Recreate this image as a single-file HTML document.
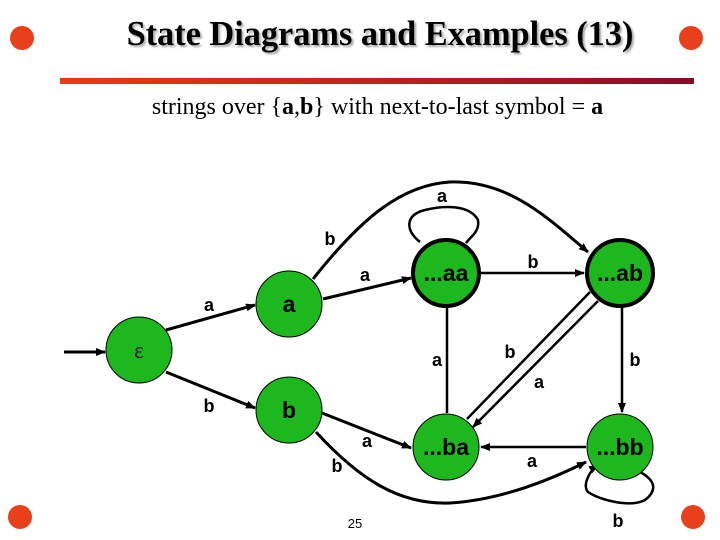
<!DOCTYPE html>
<html><head><meta charset="utf-8"><style>
body{margin:0;width:720px;height:540px;background:#fff;overflow:hidden;position:relative;font-family:"Liberation Serif",serif}
.t{position:absolute;left:0;width:760px;text-align:center;top:14px;font-size:35px;font-weight:bold;text-shadow:2px 2px 2px #aaa;transform:scaleX(0.98)}
.bar{position:absolute;left:60px;top:78px;width:634px;height:6px;background:linear-gradient(90deg,#f03a10,#8c0a28)}
.s{position:absolute;left:0;width:755px;text-align:center;top:94px;font-size:24px}
</style></head><body>
<div class="t">State Diagrams and Examples (13)</div>
<div class="bar"></div>
<div class="s">strings over {<b>a</b>,<b>b</b>} with next-to-last symbol = <b>a</b></div>
<svg width="720" height="540" style="position:absolute;left:0;top:0" font-family="Liberation Sans,sans-serif" font-weight="bold">
<defs><marker id="ar" markerWidth="10" markerHeight="8" refX="9" refY="4" orient="auto" markerUnits="userSpaceOnUse"><path d="M0,0L10,4L0,8z" fill="#000"/></marker></defs>
<g fill="#e8401a"><circle cx="22" cy="38" r="12"/><circle cx="691" cy="38" r="12"/><circle cx="20" cy="517" r="12"/><circle cx="693" cy="517" r="12"/></g>
<g stroke="#000" stroke-width="3" fill="none">
<line x1="64" y1="352" x2="105" y2="352" marker-end="url(#ar)"/>
<line x1="166" y1="330" x2="255" y2="305" marker-end="url(#ar)"/>
<line x1="166" y1="372" x2="255" y2="408" marker-end="url(#ar)"/>
<line x1="323" y1="299" x2="411" y2="278" marker-end="url(#ar)"/>
<path d="M313,279 C360,220 400,185 450,182 C510,180 550,220 588,252" marker-end="url(#ar)"/>
<path d="M420,242 C405,230 405,215 425,210 C445,205 470,205 478,220 C480,232 470,237 466,243" stroke-width="2.5"/>
<line x1="480" y1="273" x2="584" y2="273" stroke-width="2.5" marker-end="url(#ar)"/>
<line x1="447" y1="307" x2="447" y2="413" stroke-width="2.5"/>
<line x1="467" y1="419" x2="590" y2="292" stroke-width="2.5"/>
<line x1="598" y1="301" x2="473" y2="427" stroke-width="2.5" marker-end="url(#ar)"/>
<line x1="622" y1="307" x2="622" y2="412" stroke-width="2.5" marker-end="url(#ar)"/>
<line x1="586" y1="447" x2="481" y2="447" stroke-width="2.5" marker-end="url(#ar)"/>
<line x1="322" y1="413" x2="411" y2="448" marker-end="url(#ar)"/>
<path d="M316,432 C360,480 400,505 450,503 C500,500 550,480 586,462" marker-end="url(#ar)"/>
<path d="M640,472 C655,480 658,490 645,500 C630,508 600,500 588,492 C582,485 590,470 598,465" stroke-width="2.5" marker-end="url(#ar)"/>
</g>
<g fill="#1db81d" stroke="#000">
<circle cx="139" cy="350" r="33" stroke-width="1"/>
<circle cx="289" cy="304" r="33" stroke-width="1"/>
<circle cx="289" cy="410" r="33" stroke-width="1"/>
<circle cx="446" cy="273" r="33" stroke-width="4"/>
<circle cx="620" cy="273" r="33" stroke-width="4"/>
<circle cx="446" cy="447" r="33" stroke-width="1"/>
<circle cx="620" cy="447" r="33" stroke-width="1"/>
</g>
<g font-size="23" text-anchor="middle">
<text x="139" y="358" font-family="Liberation Serif,serif" font-weight="normal" fill="#111">ε</text>
<text x="289" y="312">a</text><text x="289" y="418">b</text>
<text x="446" y="281">...aa</text><text x="620" y="281">...ab</text>
<text x="446" y="455">...ba</text><text x="620" y="455">...bb</text>
</g>
<g font-size="18" text-anchor="middle">
<text x="209" y="311">a</text><text x="209" y="412">b</text>
<text x="365" y="281">a</text><text x="330" y="245">b</text>
<text x="442" y="202">a</text><text x="533" y="268">b</text>
<text x="437" y="366">a</text><text x="510" y="358">b</text><text x="539" y="388">a</text>
<text x="635" y="366">b</text><text x="532" y="467">a</text>
<text x="367" y="447">a</text><text x="337" y="472">b</text>
<text x="618" y="527">b</text>
</g>
<text x="355" y="528" font-size="13" font-weight="normal" text-anchor="middle">25</text>
</svg>
</body></html>
